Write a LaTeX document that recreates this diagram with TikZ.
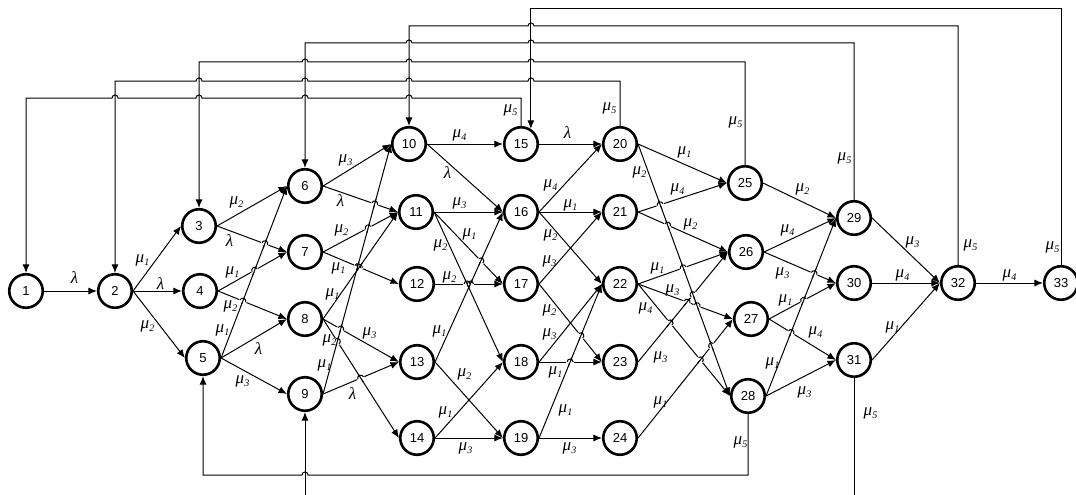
\documentclass[tikz,border=0pt]{standalone}
\usepackage{fontspec}
\setmainfont{Liberation Sans}
\newfontfamily\tnr{Liberation Serif}
\newcommand\MU[1]{{\tnr\itshape\fontsize{17}{17}\selectfont μ\raisebox{-3.4pt}{\fontsize{10}{10}\selectfont #1}}}
\newcommand\LA{{\tnr\itshape\fontsize{17}{17}\selectfont λ}}
\usetikzlibrary{arrows.meta,calc,intersections}
\begin{document}
\begin{tikzpicture}[x=1pt,y=-1pt,
  st/.style={circle,draw,line width=2.6pt,minimum size=33.5pt,inner sep=0pt,font=\fontsize{13}{13}\selectfont},
  edge/.style={line width=1pt,-{Latex[length=8.5pt,width=7pt]}},
  seg/.style={line width=1pt},
  fba/.style={line width=1pt,-{Latex[length=8.5pt,width=7pt]}},
  lab/.style={inner sep=0pt,xshift=2.5pt}]
\useasboundingbox (0,0) rectangle (1076,495);
% nodes
\node[st] (n1) at (26,291) {1};
\node[st] (n2) at (115,291) {2};
\node[st] (n3) at (199,226) {3};
\node[st] (n4) at (200,291) {4};
\node[st] (n5) at (203,358) {5};
\node[st] (n6) at (305,186) {6};
\node[st] (n7) at (305,252) {7};
\node[st] (n8) at (305,319) {8};
\node[st] (n9) at (305,394) {9};
\node[st] (n10) at (409,144) {10};
\node[st] (n11) at (416,212) {11};
\node[st] (n12) at (417,284) {12};
\node[st] (n13) at (417,362) {13};
\node[st] (n14) at (417,438) {14};
\node[st] (n15) at (521,144) {15};
\node[st] (n16) at (521,212) {16};
\node[st] (n17) at (521,284) {17};
\node[st] (n18) at (521,362) {18};
\node[st] (n19) at (521,438) {19};
\node[st] (n20) at (620,144) {20};
\node[st] (n21) at (620,212) {21};
\node[st] (n22) at (620,284) {22};
\node[st] (n23) at (620,362) {23};
\node[st] (n24) at (620,438) {24};
\node[st] (n25) at (745,183) {25};
\node[st] (n26) at (746,252) {26};
\node[st] (n27) at (751,319) {27};
\node[st] (n28) at (748,396) {28};
\node[st] (n29) at (854,218) {29};
\node[st] (n30) at (854,283) {30};
\node[st] (n31) at (854,360) {31};
\node[st] (n32) at (958,283) {32};
\node[st] (n33) at (1061,283) {33};
% forward edges
\foreach \a/\b in {1/2,2/3,2/4,2/5,3/6,3/7,4/7,4/8,5/6,5/8,5/9,6/10,6/11,7/11,7/12,8/11,8/13,8/14,9/10,9/13,
  10/15,10/16,11/16,11/17,11/18,12/17,13/16,13/19,14/18,14/19,15/20,16/20,16/21,16/22,17/21,17/23,18/22,18/23,19/22,19/24,
  20/25,20/28,21/25,21/26,22/26,22/27,22/28,23/26,24/27,25/29,26/29,26/30,27/30,27/31,28/29,28/31,29/32,30/32,31/32,32/33}
  {\draw[edge,name path global=e\a-\b-x] (n\a.east) -- (n\b.west);}
% line jumps on crossings
\def\hoplist{4/7/5/6,4/8/5/6,3/7/5/6,6/11/9/10,7/11/9/10,7/12/9/10,7/12/8/11,8/13/9/10,8/14/9/10,9/13/8/14,
  11/17/13/16,12/17/13/16,12/17/11/18,17/23/19/22,18/23/19/22,21/25/20/28,21/26/20/28,22/26/20/28,22/27/20/28,
  22/27/23/26,23/26/20/28,22/28/23/26,22/28/24/27,24/27/20/28,26/30/28/29,27/30/28/29,27/31/28/29}
\foreach \a/\b/\c/\d in \hoplist {
  \path[name intersections={of=e\a-\b-x and e\c-\d-x, by=hp}];
  \draw[white,line width=2.8pt] let \p1=($(n\b.west)-(n\a.east)$), \n1={atan2(\y1,\x1)} in
    ($(hp)+(\n1:-3.8pt)$) -- ($(hp)+(\n1:3.8pt)$);
}
\foreach \a/\b/\c/\d in \hoplist {
  \path[name intersections={of=e\a-\b-x and e\c-\d-x, by=hp}];
  \draw[seg] let \p1=($(n\d.west)-(n\c.east)$), \n1={atan2(\y1,\x1)} in
    ($(hp)+(\n1:-5pt)$) -- ($(hp)+(\n1:5pt)$);
}
\foreach \a/\b/\c/\d in \hoplist {
  \path[name intersections={of=e\a-\b-x and e\c-\d-x, by=hp}];
  \draw[seg] let \p1=($(n\b.west)-(n\a.east)$), \n1={atan2(\y1,\x1)} in
    ($(hp)+(\n1:-3pt)$) arc[start angle=\n1+180, delta angle=-180, radius=3pt];
}
% feedback connectors
\draw[fba] (n15.north) -- (521,98) -- (412,98) .. controls (412,94) and (406,94) .. (406,98)
  -- (308,98) .. controls (308,94) and (302,94) .. (302,98)
  -- (202,98) .. controls (202,94) and (196,94) .. (196,98)
  -- (118,98) .. controls (118,94) and (112,94) .. (112,98) -- (26,98) -- (n1.north);
\draw[fba] (n20.north) -- (620,81) -- (534,81) .. controls (534,77) and (528,77) .. (528,81)
  -- (412,81) .. controls (412,77) and (406,77) .. (406,81)
  -- (308,81) .. controls (308,77) and (302,77) .. (302,81)
  -- (202,81) .. controls (202,77) and (196,77) .. (196,81) -- (115,81) -- (n2.north);
\draw[fba] (n25.north) -- (745,62) -- (534,62) .. controls (534,58) and (528,58) .. (528,62)
  -- (412,62) .. controls (412,58) and (406,58) .. (406,62)
  -- (308,62) .. controls (308,58) and (302,58) .. (302,62) -- (199,62) -- (n3.north);
\draw[fba] (n29.north) -- (854,43) -- (534,43) .. controls (534,39) and (528,39) .. (528,43)
  -- (412,43) .. controls (412,39) and (406,39) .. (406,43) -- (305,43) -- (n6.north);
\draw[fba] (n32.north) -- (958,26) -- (534,26) .. controls (534,22) and (528,22) .. (528,26)
  -- (409,26) -- (n10.north);
\draw[fba] (n33.north) -- (1061,9) -- (n15.57 |- 0,9) -- (n15.57);
\draw[fba] (n28.south) -- (748,475) -- (308,475) .. controls (308,471) and (302,471) .. (302,475)
  -- (203,475) -- (n5.south);
\draw[fba] (n31.south) -- (854,502) -- (305,502) -- (n9.south);
% labels
\node[lab] (l1) at (72,278) {\LA};
\node[lab] (l2) at (140,260) {\MU1};
\node[lab] (l3) at (158,284) {\LA};
\node[lab] (l4) at (145,326) {\MU2};
\node[lab] (l5) at (234,202) {\MU2};
\node[lab] (l6) at (227,241) {\LA};
\node[lab] (l7) at (230,272) {\MU1};
\node[lab] (l8) at (228,306) {\MU2};
\node[lab] (l9) at (220,330) {\MU1};
\node[lab] (l10) at (256,349) {\LA};
\node[lab] (l11) at (240,381) {\MU3};
\node[lab] (l12) at (343,160) {\MU3};
\node[lab] (l13) at (338,201) {\LA};
\node[lab] (l14) at (339,230) {\MU2};
\node[lab] (l15) at (336,268) {\MU1};
\node[lab] (l16) at (330,294) {\MU1};
\node[lab] (l17) at (327,340) {\MU2};
\node[lab] (l18) at (367,333) {\MU3};
\node[lab] (l19) at (322,365) {\MU1};
\node[lab] (l20) at (350,394) {\LA};
\node[lab] (l21) at (457,135) {\MU4};
\node[lab] (l22) at (445,173) {\LA};
\node[lab] (l23) at (457,203) {\MU3};
\node[lab] (l24) at (467,234) {\MU1};
\node[lab] (l25) at (438,245) {\MU2};
\node[lab] (l26) at (447,277) {\MU2};
\node[lab] (l27) at (437,331) {\MU1};
\node[lab] (l28) at (462,374) {\MU2};
\node[lab] (l29) at (443,412) {\MU1};
\node[lab] (l30) at (463,448) {\MU3};
\node[lab] (l31) at (565,133) {\LA};
\node[lab] (l32) at (548,185) {\MU4};
\node[lab] (l33) at (568,205) {\MU1};
\node[lab] (l34) at (548,235) {\MU2};
\node[lab] (l35) at (547,261) {\MU3};
\node[lab] (l36) at (547,310) {\MU2};
\node[lab] (l37) at (547,334) {\MU3};
\node[lab] (l38) at (553,372) {\MU1};
\node[lab] (l39) at (563,410) {\MU1};
\node[lab] (l40) at (567,448) {\MU3};
\node[lab] (l41) at (682,152) {\MU1};
\node[lab] (l42) at (637,172) {\MU2};
\node[lab] (l43) at (675,189) {\MU4};
\node[lab] (l44) at (688,224) {\MU2};
\node[lab] (l45) at (655,268) {\MU1};
\node[lab] (l46) at (670,290) {\MU3};
\node[lab] (l47) at (643,308) {\MU4};
\node[lab] (l48) at (658,357) {\MU3};
\node[lab] (l49) at (658,402) {\MU1};
\node[lab] (l50) at (800,189) {\MU2};
\node[lab] (l51) at (785,230) {\MU4};
\node[lab] (l52) at (780,273) {\MU3};
\node[lab] (l53) at (783,300) {\MU1};
\node[lab] (l54) at (813,332) {\MU4};
\node[lab] (l55) at (770,363) {\MU1};
\node[lab] (l56) at (802,392) {\MU3};
\node[lab] (l57) at (910,242) {\MU3};
\node[lab] (l58) at (900,275) {\MU4};
\node[lab] (l59) at (890,327) {\MU1};
\node[lab] (l60) at (1007,275) {\MU4};
\node[lab] (l61) at (508,110) {\MU5};
\node[lab] (l62) at (607,108) {\MU5};
\node[lab] (l63) at (733,122) {\MU5};
\node[lab] (l64) at (842,158) {\MU5};
\node[lab] (l65) at (968,245) {\MU5};
\node[lab] (l66) at (1050,247) {\MU5};
\node[lab] (l67) at (738,442) {\MU5};
\node[lab] (l68) at (868,413) {\MU5};
\end{tikzpicture}
\end{document}
